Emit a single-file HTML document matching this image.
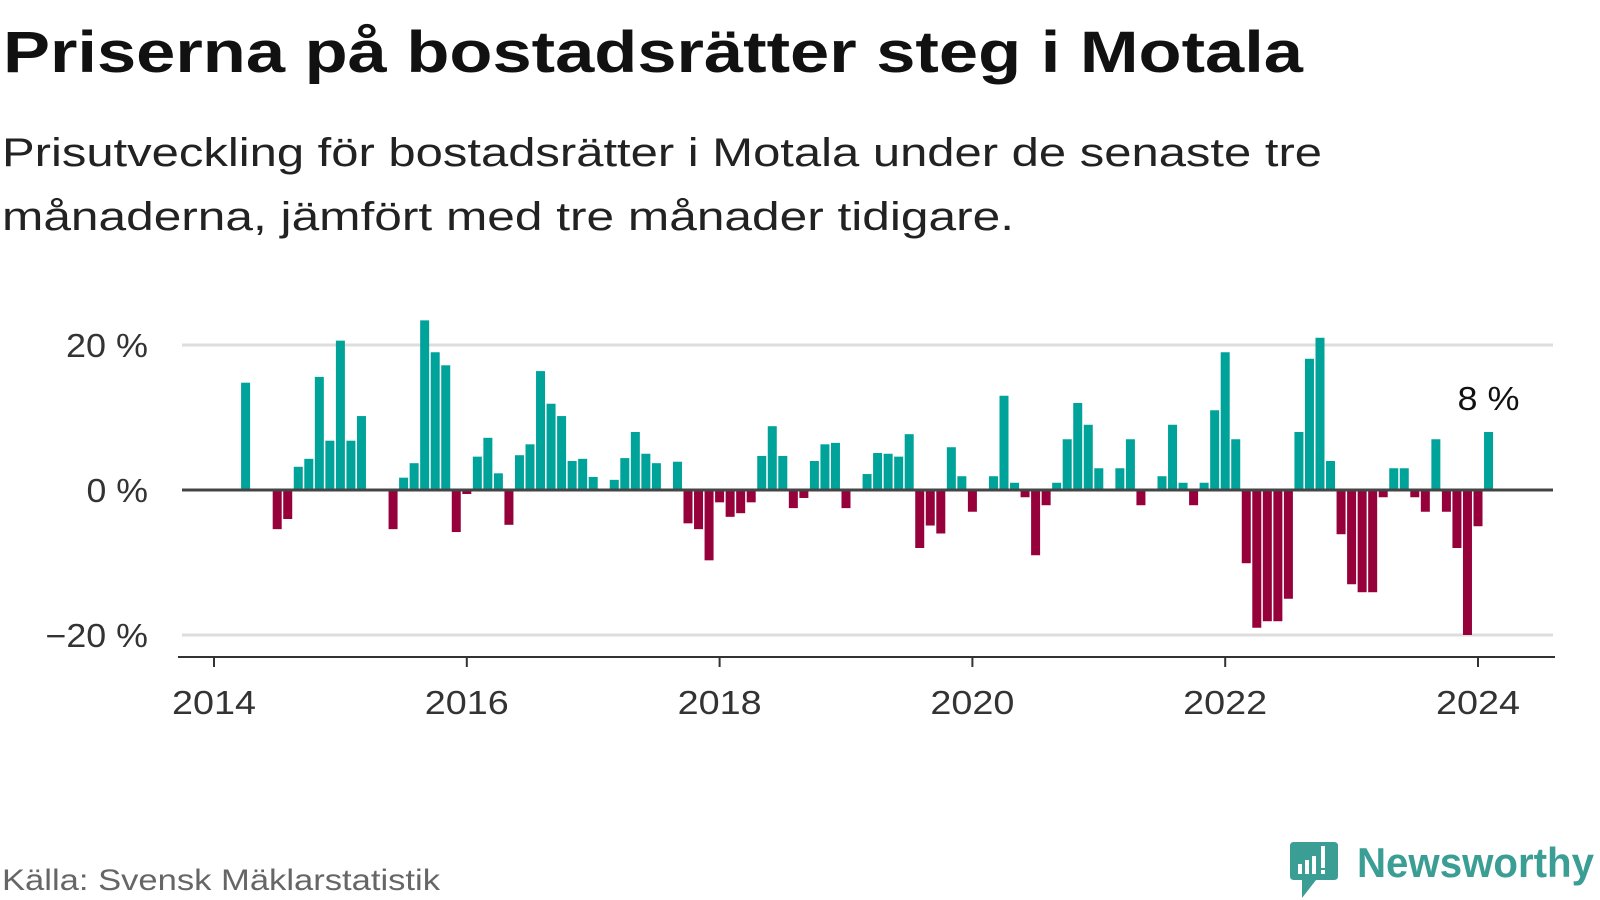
<!DOCTYPE html>
<html><head><meta charset="utf-8"><style>
html,body{margin:0;padding:0;background:#fff;}
svg{display:block;font-family:"Liberation Sans",sans-serif;}
</style></head><body>
<svg width="1600" height="900" viewBox="0 0 1600 900">
<text x="3" y="72" font-size="58" font-weight="bold" fill="#111" textLength="1300" lengthAdjust="spacingAndGlyphs">Priserna på bostadsrätter steg i Motala</text>
<text x="2" y="166" font-size="40" fill="#222" textLength="1320" lengthAdjust="spacingAndGlyphs">Prisutveckling för bostadsrätter i Motala under de senaste tre</text>
<text x="2" y="230" font-size="40" fill="#222" textLength="1012" lengthAdjust="spacingAndGlyphs">månaderna, jämfört med tre månader tidigare.</text>
<g id="grid"></g>
<g id="bars"></g>
<g id="axis"></g>
<text x="2" y="890" font-size="30" fill="#666" textLength="438" lengthAdjust="spacingAndGlyphs">Källa: Svensk Mäklarstatistik</text>
<g>
<path d="M1294 842 H1334 Q1338 842 1338 846 V876 Q1338 880 1334 880 H1316 L1302 898 L1302 880 H1294 Q1290 880 1290 876 V846 Q1290 842 1294 842 Z" fill="#3a9e95"/>
<rect x="1298" y="864" width="4" height="10" fill="#fff"/>
<rect x="1305" y="860" width="4" height="14" fill="#fff"/>
<rect x="1312" y="856" width="4" height="18" fill="#fff"/>
<rect x="1321" y="846" width="4" height="22" fill="#fff"/>
<rect x="1321" y="870" width="4" height="4" fill="#fff"/>
<text x="1357" y="877" font-size="42" font-weight="bold" fill="#3a9e95" textLength="237" lengthAdjust="spacingAndGlyphs">Newsworthy</text>
</g>
</svg>
<script>
// Monthly values, Jan 2014 .. Feb 2024 (0 = no bar)
const values = [
0,0,0,14.8,0,0,-5.4,-4.0,3.2,4.3,15.6,6.8,
20.6,6.8,10.2,0,0,-5.4,1.7,3.7,23.4,19.0,17.2,-5.8,
-0.55,4.6,7.2,2.3,-4.8,4.8,6.3,16.4,11.9,10.2,4.0,4.3,
1.8,0,1.4,4.4,8.0,5.0,3.7,0,3.9,-4.6,-5.4,-9.7,
-1.7,-3.7,-3.2,-1.7,4.7,8.8,4.7,-2.5,-1.1,4.0,6.3,6.5,
-2.5,0,2.2,5.1,5.0,4.6,7.7,-8.0,-4.9,-6.0,5.9,1.9,
-3.0,0,1.9,13.0,1.0,-1.0,-9.0,-2.1,1.0,7.0,12.0,9.0,
3.0,0,3.0,7.0,-2.1,0,1.9,9.0,1.0,-2.1,1.0,11.0,
19.0,7.0,-10.1,-19.0,-18.1,-18.1,-15.0,8.0,18.1,21.0,4.0,-6.1,
-13.0,-14.1,-14.1,-1.0,3.0,3.0,-1.0,-3.0,7.0,-3.0,-8.0,-20.0,
-5.0,8.0
];
const yTicks = [20,0,-20];
const yTickLabels = ["20 %","0 %","\u221220 %"];
const xTickYears = [2014,2016,2018,2020,2022,2024];
const lastLabel = "8 %";
const NS="http://www.w3.org/2000/svg";
const x0=214, monthW=126.4/12;
function xScale(i){return x0+i*monthW;}
function yScale(v){return 490-v*7.25;}
const grid=document.getElementById('grid'), bars=document.getElementById('bars'), axis=document.getElementById('axis');
function mk(tag,attrs,parent){const e=document.createElementNS(NS,tag);for(const k in attrs)e.setAttribute(k,attrs[k]);parent.appendChild(e);return e;}
yTicks.forEach((t,k)=>{
  const y=yScale(t);
  const l=mk('line',{x1:182,x2:1553,y1:y,y2:y,stroke:t===0?'#444':'#ddd','stroke-width':3},grid);
  
  
  const lab=yTickLabels[k];
  const tx=mk('text',{x:148,y:y+12,'font-size':33,'text-anchor':'end',fill:'#333',textLength:lab.length*20.5,lengthAdjust:'spacingAndGlyphs'},grid);
  tx.textContent=lab;
  
  
});
values.forEach((v,i)=>{
  if(v===0)return;
  const cx=xScale(i), y0=yScale(0), y1=yScale(v);
  const r=mk('rect',{x:cx-4.5,width:9,y:Math.min(y0,y1),height:Math.abs(y1-y0),fill:v>0?'#00a39a':'#96003b'},bars);
  
  
});
const zl=mk('line',{x1:182,x2:1553,y1:yScale(0),y2:yScale(0),stroke:'#444','stroke-width':3},bars);


const ax=mk('line',{x1:178,x2:1555,y1:657,y2:657,stroke:'#333','stroke-width':2},axis);


xTickYears.forEach(yr=>{
  const x=xScale((yr-2014)*12);
  const t=mk('line',{x1:x,x2:x,y1:657,y2:667,stroke:'#333','stroke-width':2},axis);
  
  
  const tx=mk('text',{x:x,y:714,'font-size':33,'text-anchor':'middle',fill:'#333',textLength:84,lengthAdjust:'spacingAndGlyphs'},axis);
  tx.textContent=String(yr);
  
  
});
const li=values.length-1;
const lbl=mk('text',{x:xScale(li),y:yScale(values[li])-22,'font-size':33,'text-anchor':'middle',fill:'#111',textLength:62,lengthAdjust:'spacingAndGlyphs'},axis);
lbl.textContent=lastLabel;


</script>
</body></html>
